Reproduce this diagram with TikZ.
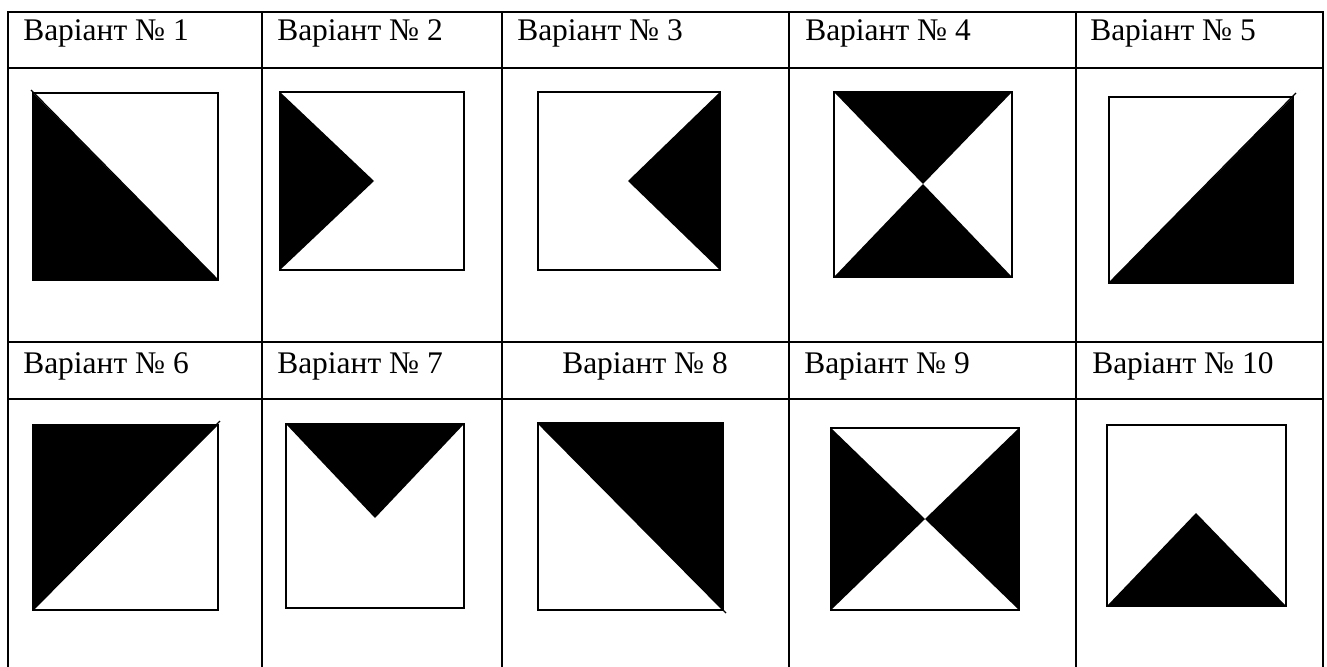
\documentclass[tikz,border=0pt]{standalone}
\usepackage{fontspec}
\setmainfont{Liberation Serif}
\begin{document}
\begin{tikzpicture}[x=0.75pt,y=-0.75pt,
  grid/.style={line width=1.6pt,black},
  sq/.style={draw=black,line width=1pt},
  blk/.style={fill=black},
  over/.style={line width=1pt,black},
  lbl/.style={anchor=base west,inner sep=0pt,font=\fontsize{23.6}{28}\selectfont}]
\useasboundingbox (0,0) rectangle (1327,667);
% table grid
\draw[grid] (8,667) -- (8,12) -- (1323,12) -- (1323,667);
\draw[grid] (8,68) -- (1323,68);
\draw[grid] (8,342) -- (1323,342);
\draw[grid] (8,399) -- (1323,399);
\foreach \x in {262,502,789,1076} \draw[grid] (\x,12) -- (\x,667);
% headers
\node[lbl] (h1) at (23,41) {Варіант № 1};
\node[lbl] (h2) at (277,41) {Варіант № 2};
\node[lbl] (h3) at (517,41) {Варіант № 3};
\node[lbl] (h4) at (805,41) {Варіант № 4};
\node[lbl] (h5) at (1090,41) {Варіант № 5};
\node[lbl] (h6) at (23,373) {Варіант № 6};
\node[lbl] (h7) at (277,373) {Варіант № 7};
\node[lbl] (h8) at (562,373) {Варіант № 8};
\node[lbl] (h9) at (804,373) {Варіант № 9};
\node[lbl] (h10) at (1092,373) {Варіант № 10};
% variant 1
\fill[blk] (33,93) -- (33,280) -- (218,280) -- cycle;
\draw[sq] (33,93) rectangle (218,280);
\draw[over] (31,90) -- (218,280);
% variant 2
\fill[blk] (280,92) -- (374,181) -- (280,270) -- cycle;
\draw[sq] (280,92) rectangle (464,270);
% variant 3
\fill[blk] (720,92) -- (628,181) -- (720,270) -- cycle;
\draw[sq] (538,92) rectangle (720,270);
% variant 4
\fill[blk] (834,92) -- (1012,92) -- (923,184) -- cycle;
\fill[blk] (834,277) -- (1012,277) -- (923,184) -- cycle;
\draw[sq] (834,92) rectangle (1012,277);
% variant 5
\fill[blk] (1109,283) -- (1293,283) -- (1293,97) -- cycle;
\draw[sq] (1109,97) rectangle (1293,283);
\draw[over] (1109,283) -- (1296,93);
% variant 6
\fill[blk] (33,425) -- (218,425) -- (33,610) -- cycle;
\draw[sq] (33,425) rectangle (218,610);
\draw[over] (33,610) -- (220,421);
% variant 7
\fill[blk] (286,424) -- (464,424) -- (375,518) -- cycle;
\draw[sq] (286,424) rectangle (464,608);
% variant 8
\fill[blk] (538,423) -- (723,423) -- (723,610) -- cycle;
\draw[sq] (538,423) rectangle (723,610);
\draw[over] (538,423) -- (726,613);
% variant 9
\fill[blk] (831,428) -- (925,519) -- (831,610) -- cycle;
\fill[blk] (1019,428) -- (925,519) -- (1019,610) -- cycle;
\draw[sq] (831,428) rectangle (1019,610);
% variant 10
\fill[blk] (1107,606) -- (1196,513) -- (1286,606) -- cycle;
\draw[sq] (1107,425) rectangle (1286,606);
\end{tikzpicture}
\end{document}
